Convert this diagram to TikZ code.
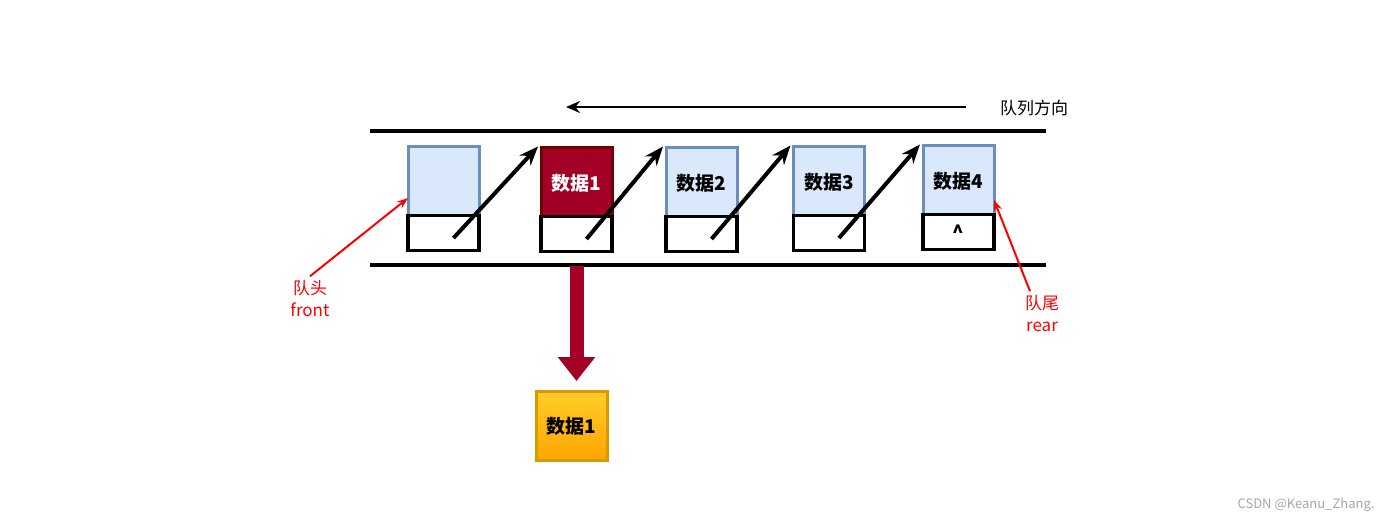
\documentclass[tikz,border=0pt]{standalone}
\usepackage{fontspec}
\setmainfont{Noto Sans CJK SC}
\usetikzlibrary{arrows.meta,positioning}
\definecolor{datafill}{HTML}{DAE8FC}
\definecolor{databorder}{HTML}{6C8EBF}
\definecolor{outred}{HTML}{A20025}
\definecolor{outredborder}{HTML}{6F0000}
\definecolor{goldtop}{HTML}{FFCD28}
\definecolor{goldbottom}{HTML}{FFA500}
\definecolor{goldborder}{HTML}{D79B00}
\tikzstyle{data}=[rectangle,draw=databorder,fill=datafill,line width=3pt,outer sep=0pt,inner sep=0pt,minimum width=71pt,minimum height=69pt,text depth=-4pt,font=\bfseries\fontsize{19}{22}\selectfont]
\tikzstyle{taken data}=[data,draw=outredborder,fill=outred,text=white]
\tikzstyle{out data}=[data,draw=goldborder,top color=goldtop,bottom color=goldbottom]
\tikzstyle{pointer}=[rectangle,draw=black,fill=white,line width=3.5pt,outer sep=0pt,inner sep=0pt,minimum width=71pt,minimum height=35pt,anchor=north,font=\bfseries\fontsize{19}{22}\selectfont]
\tikzstyle{link}=[draw,line width=4pt,-{Stealth[length=19pt,width=15pt]}]
\tikzstyle{rail}=[draw,line width=4pt]
\tikzstyle{endtag}=[text=red,align=center,font=\fontsize{17}{22}\selectfont]
\tikzstyle{tag arrow}=[draw=red,line width=2pt,-{Stealth[length=11pt,width=8pt]}]
\tikzstyle{out arrow}=[draw=outred,line width=14pt,-{Triangle[length=24pt,width=36pt]},shorten <=14pt,shorten >=10pt]

\begin{document}
\begin{tikzpicture}[x=1pt,y=-1pt]
    \useasboundingbox (0,0) rectangle (1400,523);

    % queue direction
    \coordinate (dir start) at (966,107);
    \coordinate (dir end) at (566,107);
    \path[draw,line width=2pt,-{Stealth[length=14pt,width=12pt]}] (dir start) -- (dir end);
    \node[font=\fontsize{17}{20}\selectfont] (dir) at (1034,108) {队列方向};

    % the two rails
    \path[rail] (370,131) -- (1046,131);
    \path[rail] (370,265) -- (1046,265);

    % First we draw the data boxes
    \foreach \pos/\name/\lbl in {{(443.5,181)/d1/{}}, {(701.5,182)/d3/数据2}, {(829,181)/d4/数据3}, {(958.5,180)/d5/数据4}}
        \node[data] (\name) at \pos {\lbl};
    \node[taken data] (d2) at (576.5,182) {数据1};

    % pointer fields below them
    \foreach \i in {1,...,4}
        \node[pointer] (p\i) at (d\i.south) {};
    \node[pointer] (p5) at (d5.south) {\textasciicircum};

    % Connect pointer fields with next boxes
    \foreach \source/\dest in {1/2, 2/3, 3/4, 4/5}
        \path[link] ([xshift=10pt,yshift=-5pt]p\source.center) -- ([xshift=-3pt,yshift=1pt]d\dest.north west);

    % dequeued element
    \node[out data] (o1) at (571.5,425.5) {数据1};
    \path[out arrow] (p2.south) -- (p2.south |- o1.north);

    % front and rear
    \node[endtag] (front) at (310,298) {队头\\front};
    \node[endtag] (rear) at (1042,313) {队尾\\rear};
    \path[tag arrow] (front.north) -- ([yshift=-17pt]d1.west);
    \path[tag arrow] ([xshift=-12pt]rear.north) -- ([yshift=-20pt]d5.east);

    \node[text=gray!70,font=\fontsize{13}{15}\selectfont] (wm) at (1306,505) {CSDN @Keanu\_Zhang.};
\end{tikzpicture}
\end{document}
